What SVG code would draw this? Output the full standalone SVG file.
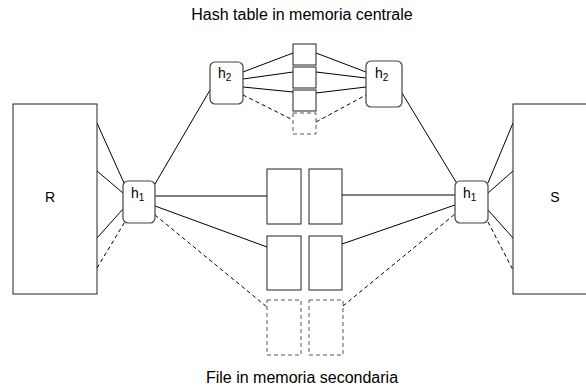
<svg xmlns="http://www.w3.org/2000/svg" width="586" height="389" viewBox="0 0 586 389">
<style>
.bg{fill:#fff}
.box{fill:#fff;stroke:#222;stroke-width:1}
.hbox{fill:#fff;stroke:#444;stroke-width:1.2}
.dbox{fill:#fff;stroke:#555;stroke-width:1;stroke-dasharray:4 3}
.ln{stroke:#000;stroke-width:1;fill:none}
.dl{stroke:#000;stroke-width:1;fill:none;stroke-dasharray:4 3}
.t{font-family:"Liberation Sans",Arial,sans-serif;font-size:14px;fill:#000}
.title{font-size:16px}
.sub{font-size:10px}
</style>
<rect class="bg" width="586" height="389"/>
<g id="connectors">
<line class="ln" x1="97" y1="123" x2="124" y2="183"/>
<line class="ln" x1="97" y1="171" x2="123" y2="193"/>
<line class="ln" x1="97" y1="238" x2="123" y2="209"/>
<line class="dl" x1="97" y1="268" x2="126" y2="220"/>
<line class="ln" x1="488" y1="183" x2="513" y2="123"/>
<line class="ln" x1="488" y1="193" x2="513" y2="171"/>
<line class="ln" x1="488" y1="210" x2="513" y2="238"/>
<line class="dl" x1="488" y1="222" x2="513" y2="270"/>
<line class="ln" x1="155" y1="184" x2="210" y2="90"/>
<line class="ln" x1="402" y1="93" x2="456" y2="182"/>
<line class="ln" x1="155" y1="196" x2="267" y2="196"/>
<line class="ln" x1="155" y1="206" x2="267" y2="247"/>
<line class="dl" x1="155" y1="215" x2="267" y2="307"/>
<line class="ln" x1="342" y1="195" x2="455" y2="195"/>
<line class="ln" x1="342" y1="244" x2="455" y2="205"/>
<line class="dl" x1="343" y1="306" x2="455" y2="214"/>
<line class="ln" x1="243" y1="72" x2="293" y2="53"/>
<line class="ln" x1="243" y1="79" x2="293" y2="72"/>
<line class="ln" x1="243" y1="87" x2="293" y2="92"/>
<line class="dl" x1="243" y1="95" x2="293" y2="120"/>
<line class="ln" x1="316" y1="53" x2="366" y2="72"/>
<line class="ln" x1="316" y1="72" x2="366" y2="78"/>
<line class="ln" x1="316" y1="93" x2="366" y2="87"/>
<line class="dl" x1="316" y1="122" x2="366" y2="95"/>
</g>
<g id="R"><rect class="box" x="13" y="104" width="84" height="190"/><text class="t" x="50" y="202" text-anchor="middle">R</text></g>
<g id="S"><rect class="box" x="513" y="104" width="84" height="190"/><text class="t" x="555" y="202" text-anchor="middle">S</text></g>
<g id="h1-left"><rect class="hbox" x="123" y="181" width="32" height="42" rx="5"/><text class="t" x="131" y="198">h<tspan class="sub" dy="3">1</tspan></text></g>
<g id="h1-right"><rect class="hbox" x="455" y="181" width="33" height="42" rx="5"/><text class="t" x="463" y="198">h<tspan class="sub" dy="3">1</tspan></text></g>
<g id="h2-left"><rect class="hbox" x="210" y="62" width="33" height="42" rx="5"/><text class="t" x="218" y="78">h<tspan class="sub" dy="3">2</tspan></text></g>
<g id="h2-right"><rect class="hbox" x="366" y="61" width="36" height="46" rx="5"/><text class="t" x="375" y="78">h<tspan class="sub" dy="3">2</tspan></text></g>
<g id="bucket1"><rect class="box" x="293" y="44" width="23" height="21"/></g>
<g id="bucket2"><rect class="box" x="293" y="67" width="23" height="21"/></g>
<g id="bucket3"><rect class="box" x="293" y="90" width="23" height="21"/></g>
<g id="bucket4"><rect class="dbox" x="293" y="113" width="23" height="21"/></g>
<g id="file1"><rect class="box" x="267" y="169" width="34" height="55"/></g>
<g id="file2"><rect class="box" x="309" y="169" width="33" height="55"/></g>
<g id="file3"><rect class="box" x="267" y="236" width="34" height="54"/></g>
<g id="file4"><rect class="box" x="309" y="236" width="33" height="54"/></g>
<g id="file5"><rect class="dbox" x="267" y="300" width="34" height="55"/></g>
<g id="file6"><rect class="dbox" x="309" y="300" width="34" height="55"/></g>
<g id="labels">
<text class="t title" x="302" y="20" text-anchor="middle">Hash table in memoria centrale</text>
<text class="t title" x="302" y="383" text-anchor="middle">File in memoria secondaria</text>
</g>
</svg>
